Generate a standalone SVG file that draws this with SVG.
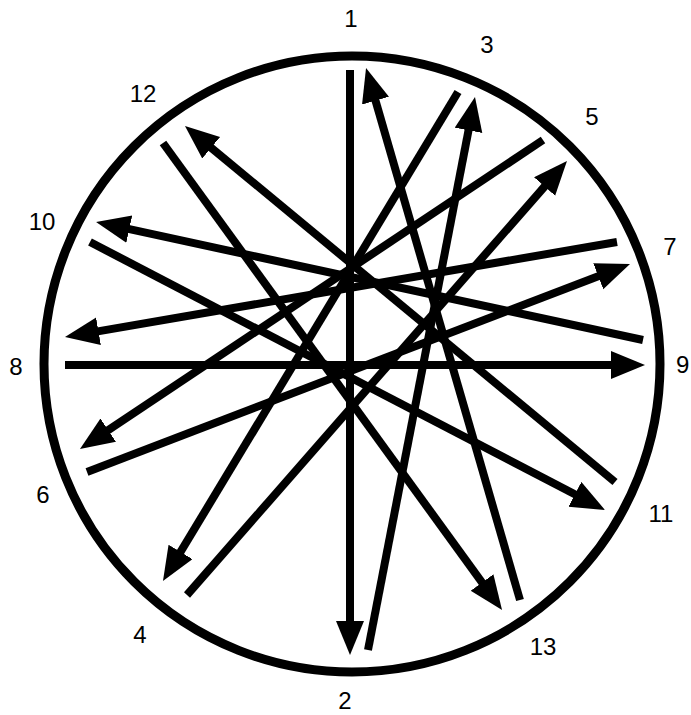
<svg xmlns="http://www.w3.org/2000/svg" width="691" height="715" viewBox="0 0 691 715">
<style>
.lbl{font-family:"Liberation Sans","DejaVu Sans",sans-serif;font-size:24px;fill:#000}
.ln{fill:none;stroke:#000;stroke-width:8;marker-end:url(#ah)}
</style>
<defs>
<marker id="ah" markerUnits="userSpaceOnUse" markerWidth="36" markerHeight="30" refX="14" refY="14" orient="auto">
<path d="M0,0 L34,14 L0,28 Z" fill="#000"/>
</marker>
</defs>
<rect width="691" height="715" fill="#fff"/>
<g id="ring"><circle cx="352" cy="364" r="308" fill="none" stroke="#000" stroke-width="9"/></g>
<g id="connectors">
<path class="ln" d="M350,70 L350,635"/>
<path class="ln" d="M368,650 L471.2,116.6"/>
<path class="ln" d="M458,92 L173.3,563.9"/>
<path class="ln" d="M187,595 L553.8,176"/>
<path class="ln" d="M543,140 L96.6,437.9"/>
<path class="ln" d="M87,472 L611.3,271.2"/>
<path class="ln" d="M617,242 L84.7,333.6"/>
<path class="ln" d="M65,365 L625,365"/>
<path class="ln" d="M643,340 L115.6,226.2"/>
<path class="ln" d="M90,242 L587.3,500.8"/>
<path class="ln" d="M615,482 L200.4,138.8"/>
<path class="ln" d="M163,143 L490.3,593.8"/>
<path class="ln" d="M520,600 L371.6,87.2"/>
</g>
<g id="n1"><text class="lbl" x="351" y="27" text-anchor="middle">1</text></g>
<g id="n2"><text class="lbl" x="345" y="709" text-anchor="middle">2</text></g>
<g id="n3"><text class="lbl" x="487" y="53" text-anchor="middle">3</text></g>
<g id="n4"><text class="lbl" x="140" y="643" text-anchor="middle">4</text></g>
<g id="n5"><text class="lbl" x="592" y="125" text-anchor="middle">5</text></g>
<g id="n6"><text class="lbl" x="43" y="503" text-anchor="middle">6</text></g>
<g id="n7"><text class="lbl" x="670" y="255" text-anchor="middle">7</text></g>
<g id="n8"><text class="lbl" x="16" y="375" text-anchor="middle">8</text></g>
<g id="n9"><text class="lbl" x="676" y="373">9</text></g>
<g id="n10"><text class="lbl" x="42" y="230" text-anchor="middle">10</text></g>
<g id="n11"><text class="lbl" x="661" y="522" text-anchor="middle">11</text></g>
<g id="n12"><text class="lbl" x="143" y="102" text-anchor="middle">12</text></g>
<g id="n13"><text class="lbl" x="543" y="655" text-anchor="middle">13</text></g>
</svg>
